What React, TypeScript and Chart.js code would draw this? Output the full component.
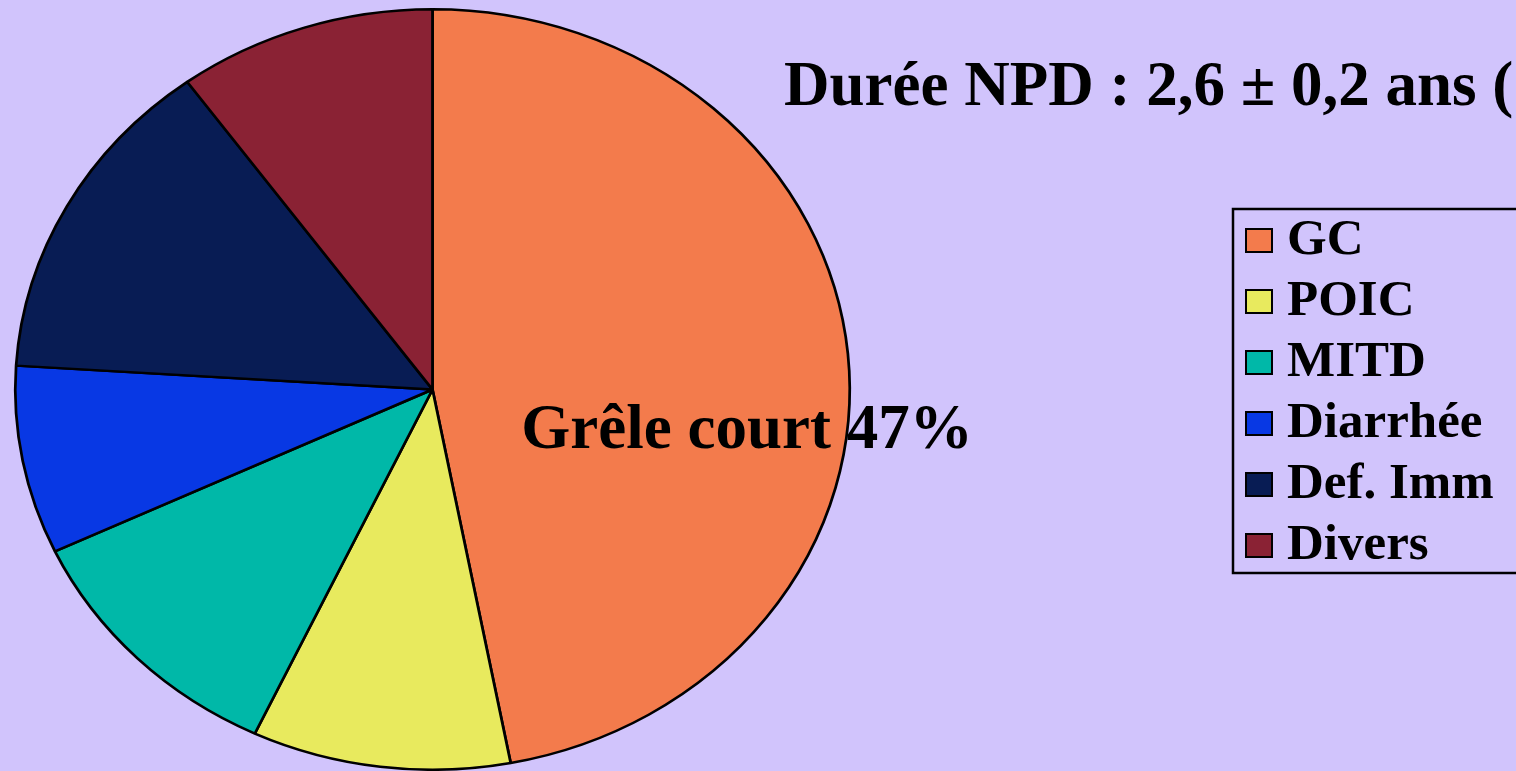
import React, { useEffect, useRef } from "react";
import { Chart, registerables } from "chart.js";

Chart.register(...registerables);

const categories = ["GC", "POIC", "MITD", "Diarrhée", "Def. Imm", "Divers"];
const shares = [47, 10, 11, 8, 14, 10];
const sliceColors = ["#F37B4C", "#E8EA5E", "#00B8A8", "#0838E4", "#081C54", "#8A2234"];
const titleText = "Durée NPD : 2,6 ± 0,2 ans (";
const sliceLabel = "Grêle court";

const BG = "#D1C4FC";
const FONT = "'Liberation Serif', 'Times New Roman', serif";
const X_STRETCH = 417.5 / 380.5;

const stretchPlugin = {
  id: "stretch",
  beforeDatasetsDraw(chart: any) {
    const meta = chart.getDatasetMeta(0);
    const arc = meta.data[0];
    if (!arc) return;
    const { x, y } = arc.getProps(["x", "y"], true);
    const ctx = chart.ctx;
    ctx.save();
    ctx.translate(x, y);
    ctx.scale(X_STRETCH, 1);
    ctx.translate(-x, -y);
  },
  afterDatasetsDraw(chart: any) {
    chart.ctx.restore();
  },
};

const textPlugin = {
  id: "texts",
  afterDraw(chart: any) {
    const ctx = chart.ctx;
    ctx.save();
    ctx.fillStyle = "#000";
    ctx.textBaseline = "alphabetic";

    // title
    ctx.font = `bold 63px ${FONT}`;
    ctx.textAlign = "left";
    ctx.fillText(titleText, 784, 105);

    // slice label
    const vals = chart.data.datasets[0].data;
    ctx.font = `bold 63px ${FONT}`;
    ctx.textAlign = "center";
    ctx.fillText(`${sliceLabel} ${vals[0]}%`, 747, 448);

    // legend
    const labels = chart.data.labels;
    const colors = chart.data.datasets[0].backgroundColor;
    ctx.strokeStyle = "#000";
    ctx.lineWidth = 2.5;
    ctx.strokeRect(1233, 209, 320, 364);
    ctx.lineWidth = 2;
    ctx.font = `bold 51px ${FONT}`;
    ctx.textAlign = "left";
    labels.forEach((lab: string, i: number) => {
      const base = 254 + i * 61;
      ctx.fillStyle = colors[i];
      ctx.fillRect(1246, base - 25, 26, 23);
      ctx.strokeRect(1246, base - 25, 26, 23);
      ctx.fillStyle = "#000";
      ctx.fillText(lab, 1287, base);
    });
    ctx.restore();
  },
};

export default function App() {
  const ref = useRef<HTMLCanvasElement>(null);

  useEffect(() => {
    if (!ref.current) return;
    const chart = new Chart(ref.current, {
      type: "pie",
      data: {
        labels: categories,
        datasets: [
          {
            data: shares,
            backgroundColor: sliceColors,
            borderColor: "#000",
            borderWidth: 2.5,
            borderAlign: "center",
            clip: false,
          } as any,
        ],
      },
      options: {
        animation: false,
        responsive: false,
        devicePixelRatio: 1,
        events: [],
        layout: { padding: { top: 8, bottom: 0, left: 51, right: 702 } },
        plugins: {
          legend: { display: false },
          title: { display: false },
          tooltip: { enabled: false },
        },
      },
      plugins: [stretchPlugin, textPlugin],
    });
    return () => chart.destroy();
  }, []);

  return (
    <div
      style={{
        position: "absolute",
        left: 0,
        top: 0,
        width: 1516,
        height: 771,
        background: BG,
        overflow: "hidden",
      }}
    >
      <canvas ref={ref} width={1516} height={771} style={{ display: "block" }} />
    </div>
  );
}
